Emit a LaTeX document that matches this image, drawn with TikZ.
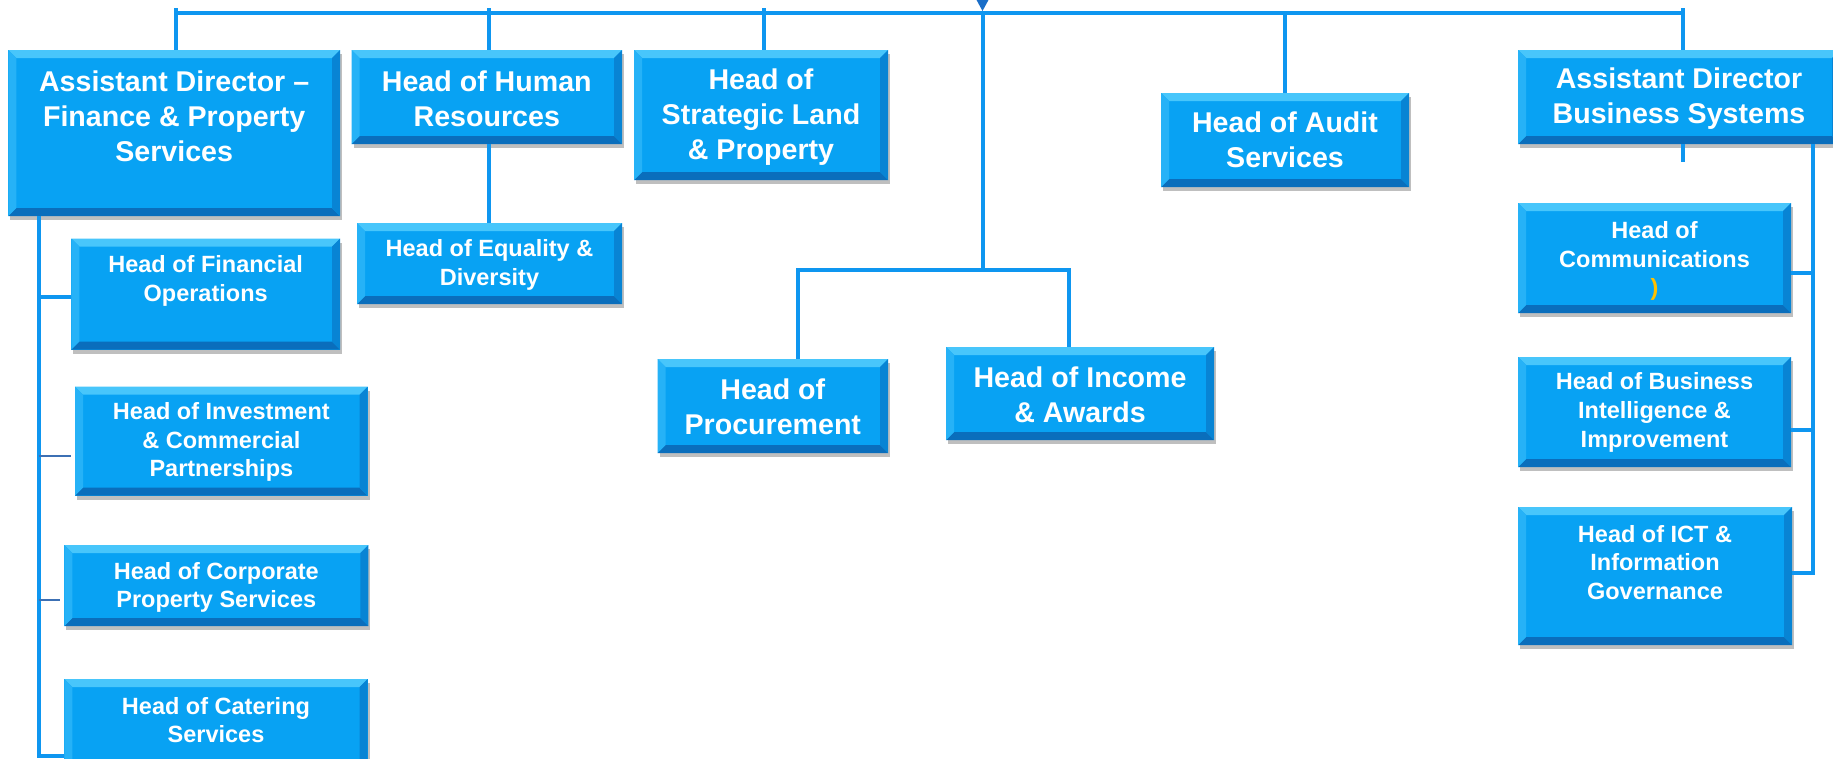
\documentclass[tikz,border=0pt]{standalone}
\usepackage{fontspec}
\setmainfont{Liberation Sans}
\usetikzlibrary{shadows}
\definecolor{boxc}{RGB}{8,162,243}
\definecolor{bvtop}{RGB}{72,198,251}
\definecolor{bvleft}{RGB}{38,178,247}
\definecolor{bvright}{RGB}{8,132,212}
\definecolor{bvbot}{RGB}{10,110,188}
\definecolor{linec}{RGB}{14,150,240}
\definecolor{thinc}{RGB}{60,112,180}
\definecolor{arrc}{RGB}{26,110,200}
\definecolor{parenc}{RGB}{255,192,0}
\tikzset{
  box/.style={rectangle, fill=boxc, draw=none, inner sep=0pt,
    drop shadow={shadow xshift=2pt, shadow yshift=-4pt, opacity=0.25, fill=black},
    path picture={
      \fill[bvtop] (path picture bounding box.north west) -- (path picture bounding box.north east)
        -- ([shift={(-8pt,-8pt)}]path picture bounding box.north east) -- ([shift={(8pt,-8pt)}]path picture bounding box.north west) -- cycle;
      \fill[bvbot] (path picture bounding box.south west) -- (path picture bounding box.south east)
        -- ([shift={(-8pt,8pt)}]path picture bounding box.south east) -- ([shift={(8pt,8pt)}]path picture bounding box.south west) -- cycle;
      \fill[bvleft] (path picture bounding box.north west) -- (path picture bounding box.south west)
        -- ([shift={(8pt,8pt)}]path picture bounding box.south west) -- ([shift={(8pt,-8pt)}]path picture bounding box.north west) -- cycle;
      \fill[bvright] (path picture bounding box.north east) -- (path picture bounding box.south east)
        -- ([shift={(-8pt,8pt)}]path picture bounding box.south east) -- ([shift={(-8pt,-8pt)}]path picture bounding box.north east) -- cycle;
    }},
  bigt/.style={text=white, align=center, inner sep=0pt, font=\fontsize{28.6}{35}\selectfont\bfseries},
  smallt/.style={text=white, align=center, inner sep=0pt, font=\fontsize{23.5}{28.7}\selectfont\bfseries},
  conn/.style={draw=linec, line width=4pt},
  thinconn/.style={draw=thinc, line width=1.6pt}
}
\newcommand\orgbox[5]{\node[box, minimum width={#4-#2}, minimum height={#5-#3}] (#1) at ({(#2+#4)/2},{(#3+#5)/2}) {};}
\begin{document}
\begin{tikzpicture}[x=1pt, y=-1pt]
\useasboundingbox (0,0) rectangle (1833,758);
\fill[white] (0,0) rectangle (1833,758);

% boxes
\orgbox{fin}{8.3}{50}{340}{216}
\orgbox{hr}{351.6}{50}{622}{144}
\orgbox{slp}{634}{50}{888}{180}
\orgbox{aud}{1161}{93}{1409}{187}
\orgbox{bs}{1518}{50}{1840}{144}
\orgbox{eq}{357}{223}{622}{304}
\orgbox{fop}{71.3}{238.5}{340}{349.5}
\orgbox{inv}{75}{386.7}{367.7}{495.7}
\orgbox{cps}{64.3}{545}{368.3}{626}
\orgbox{cat}{64.3}{679}{367.7}{800}
\orgbox{proc}{657.6}{359}{888}{453}
\orgbox{inc}{946}{347}{1214}{440}
\orgbox{com}{1518}{203}{1791}{313}
\orgbox{bi}{1518}{357}{1791}{467}
\orgbox{ict}{1518}{507}{1792}{645}

% texts
\node[bigt] (fin-t) at (fin.center |- 0,116) {Assistant Director –\\Finance \& Property\\Services};
\node[bigt] (hr-t) at (hr.center |- 0,98.5) {Head of Human\\Resources};
\node[bigt] (slp-t) at (slp.center |- 0,117) {Head of\\Strategic Land\\\& Property};
\node[bigt] (aud-t) at (aud.center |- 0,140) {Head of Audit\\Services};
\node[bigt] (bs-t) at (1679,98.5) {Assistant Director\\Business Systems};
\node[smallt] (eq-t) at (eq.center |- 0,265) {Head of Equality \&\\Diversity};
\node[smallt] (fop-t) at (fop.center |- 0,281) {Head of Financial\\Operations};
\node[smallt] (inv-t) at (inv.center |- 0,442) {Head of Investment\\\& Commercial\\Partnerships};
\node[smallt] (cps-t) at (cps.center |- 0,587.5) {Head of Corporate\\Property Services};
\node[smallt] (cat-t) at (cat.center |- 0,720) {Head of Catering\\Services};
\node[bigt] (proc-t) at (proc.center |- 0,406.5) {Head of\\Procurement};
\node[bigt] (inc-t) at (inc.center |- 0,395) {Head of Income\\\& Awards};
\node[smallt] (com-t) at (com.center |- 0,261) {Head of\\Communications\\{\color{parenc})}};
\node[smallt] (bi-t) at (bi.center |- 0,412.5) {Head of Business\\Intelligence \&\\Improvement};
\node[smallt] (ict-t) at (ict.center |- 0,562.5) {Head of ICT \&\\Information\\Governance};

% coordinates
\coordinate (bar) at (0,12.7);
\coordinate (bartop) at (0,8);
\coordinate (finx) at (176,0);
\coordinate (hrx) at (489,0);
\coordinate (slpx) at (763.5,0);
\coordinate (audx) at (1285,0);
\coordinate (ctop) at (982.5,12.7);
\coordinate (cmid) at (982.5,270);
\coordinate (pj) at (798,270);
\coordinate (ij) at (1069,270);
\coordinate (lsp) at (38.5,756);
\coordinate (invb) at (70.7,455.7);
\coordinate (cpsb) at (60,600);
\coordinate (rsp) at (1813,573);
\coordinate (comb) at (1813,272.7);
\coordinate (bib) at (1813,430);
\coordinate (bstub) at (1682.7,162);

% top bar and verticals
\draw[conn] ([xshift=-2pt]finx |- bar) -- ([xshift=2pt]bstub |- bar);
\draw[conn] (finx |- bartop) -- (finx |- fin.north);
\draw[conn] (hrx |- bartop) -- (hrx |- hr.north);
\draw[conn] (slpx |- bartop) -- (slpx |- slp.north);
\draw[conn] (audx |- bar) -- (audx |- aud.north);
\draw[conn] (bstub |- bartop) -- (bstub |- bs.north);
\draw[conn] (bstub |- bs.south) -- (bstub);

% arrow at top
\fill[arrc] (976,-1) -- (989,-1) -- (982.5,11) -- cycle;

% central branch
\draw[conn] (ctop) -- (cmid);
\draw[conn] ([xshift=-2pt]pj) -- ([xshift=2pt]ij);
\draw[conn] (pj) -- (pj |- proc.north);
\draw[conn] (ij) -- (ij |- inc.north);

% HR to equality
\draw[conn] (hrx |- hr.south) -- (hrx |- eq.north);

% left spine
\draw[conn] (lsp |- fin.south) -- (lsp) -- (lsp -| cat.west);
\draw[conn] (lsp |- 0,297) -- (fop.west |- 0,297);
\draw[thinconn] (invb -| lsp) -- (invb);
\draw[thinconn] (cpsb -| lsp) -- (cpsb);

% right spine
\draw[conn] (rsp |- bs.south) -- (rsp) -- (rsp -| ict.east);
\draw[conn] (comb) -- (comb -| com.east);
\draw[conn] (bib) -- (bib -| bi.east);
\end{tikzpicture}
\end{document}
